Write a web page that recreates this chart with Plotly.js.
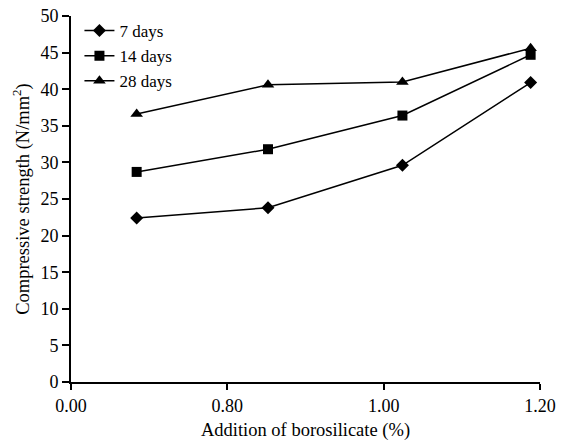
<!DOCTYPE html>
<html>
<head>
<meta charset="utf-8">
<script src="https://cdn.plot.ly/plotly-3.0.1.min.js"></script>
<style>html,body{margin:0;padding:0;background:#fff;}#chart{width:565px;height:441px;}</style>
</head>
<body>
<div id="chart"></div>
<script>
// x tick labels (evenly spaced on the original axis)
const tickLabels = ["0.00", "0.80", "1.00", "1.20"];
const tickPos = [0, 1, 2, 3];
const xPos = [0.42, 1.26, 2.12, 2.94];
const days7 = [22.4, 23.8, 29.6, 40.9];
const days14 = [28.7, 31.8, 36.4, 44.7];
const days28 = [36.6, 40.6, 41.0, 45.6];
const seriesNames = ["7 days", "14 days", "28 days"];

const font = "Liberation Serif, Times New Roman, serif";
function tr(name, y, sym, size) {
  return {
    x: xPos, y: y, name: name, type: "scatter", mode: "lines+markers",
    line: {color: "#000", width: 1.5},
    marker: {symbol: sym, size: size, color: "#000"}
  };
}
const data = [
  tr(seriesNames[0], days7, "diamond", 10),
  tr(seriesNames[1], days14, "square", 10),
  tr(seriesNames[2], days28, "triangle-up", 11)
];
const layout = {
  width: 565, height: 441,
  margin: {l: 71, r: 25, t: 16, b: 59},
  paper_bgcolor: "#fff", plot_bgcolor: "#fff",
  font: {family: font, size: 18, color: "#000"},
  showlegend: true,
  legend: {x: 0.018, y: 1.008, xanchor: "left", yanchor: "top",
           font: {family: font, size: 17, color: "#000"},
           bgcolor: "rgba(0,0,0,0)", itemwidth: 30, tracegroupgap: 0},
  xaxis: {
    range: [0, 3], tickvals: tickPos, ticktext: tickLabels,
    showgrid: false, zeroline: false, showline: true, linecolor: "#000", linewidth: 2,
    ticks: "outside", ticklen: 6, tickwidth: 2, tickcolor: "#000",
    tickfont: {family: font, size: 18},
    title: {text: "Addition of borosilicate (%)", font: {family: font, size: 18.5}, standoff: 10}
  },
  yaxis: {
    range: [0, 50], dtick: 5, tick0: 0,
    showgrid: false, zeroline: false, showline: true, linecolor: "#000", linewidth: 2,
    ticks: "outside", ticklen: 7, tickwidth: 2, tickcolor: "#000",
    tickfont: {family: font, size: 18},
    title: {text: "Compressive strength (N/mm<sup>2</sup>)", font: {family: font, size: 18.5}, standoff: 6}
  }
};
Plotly.newPlot("chart", data, layout, {displayModeBar: false, staticPlot: true});
</script>
</body>
</html>
